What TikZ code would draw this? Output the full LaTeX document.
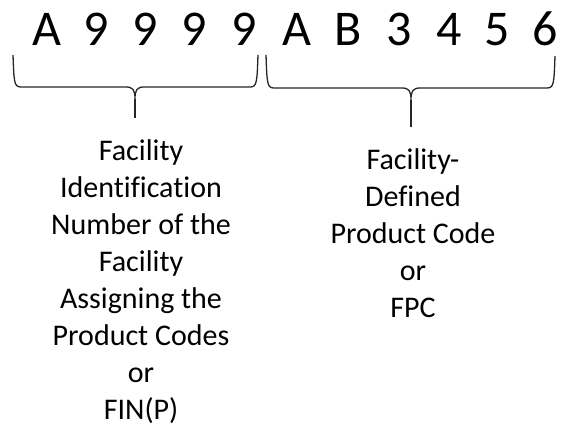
\documentclass[tikz,border=0pt]{standalone}
\usepackage{fontspec}
\setmainfont{Carlito}[Ligatures=CommonOff]
\usetikzlibrary{positioning}

\newcommand*{\pagew}{563}
\newcommand*{\pageh}{425}

\begin{document}
\begin{tikzpicture}
[
	x=1pt,y=-1pt,
	codechar/.style={anchor=base,inner sep=0pt,font=\fontsize{50}{60}\selectfont},
	fieldtext/.style={anchor=north,inner sep=0pt,align=center,font=\fontsize{30}{37}\selectfont},
	bracket/.style={draw=black!85,line width=1.3pt,line join=round}
]

	% page
	\useasboundingbox (0,0) rectangle (\pagew,\pageh);

	% code characters
	\foreach \ch/\xc [count=\i] in {A/47,9/96,9/145,9/194,9/244,A/297,B/348,3/399,4/449,5/497,6/545}
		\node[codechar] (c\i) at (\xc,46) {\ch};

	% brace tips
	\coordinate (finTip) at (135,118);
	\coordinate (fpcTip) at (411,127);

	% braces
	\draw[bracket] (13,55) .. controls (14,82) and (14,87) .. (21,87) -- (126,87)
		.. controls (133,87) and (135,90) .. (135,99)
		.. controls (135,90) and (137,87) .. (144,87) -- (250,87)
		.. controls (257,87) and (257,82) .. (258,55);
	\draw[bracket] (135,99) -- (finTip);

	\draw[bracket] (266,55) .. controls (267,83) and (267,88) .. (274,88) -- (402,88)
		.. controls (409,88) and (411,91) .. (411,100)
		.. controls (411,91) and (413,88) .. (420,88) -- (547,88)
		.. controls (554,88) and (554,83) .. (555,56);
	\draw[bracket] (411,100) -- (fpcTip);

	% labels
	\node[fieldtext] (fin) at (141,139) {Facility\\Identification\\Number of the\\Facility\\Assigning the\\Product Codes\\or\\FIN(P)};
	\node[fieldtext] (fpc) at (413,148) {Facility-\\Defined\\Product Code\\or\\FPC};

\end{tikzpicture}
\end{document}
